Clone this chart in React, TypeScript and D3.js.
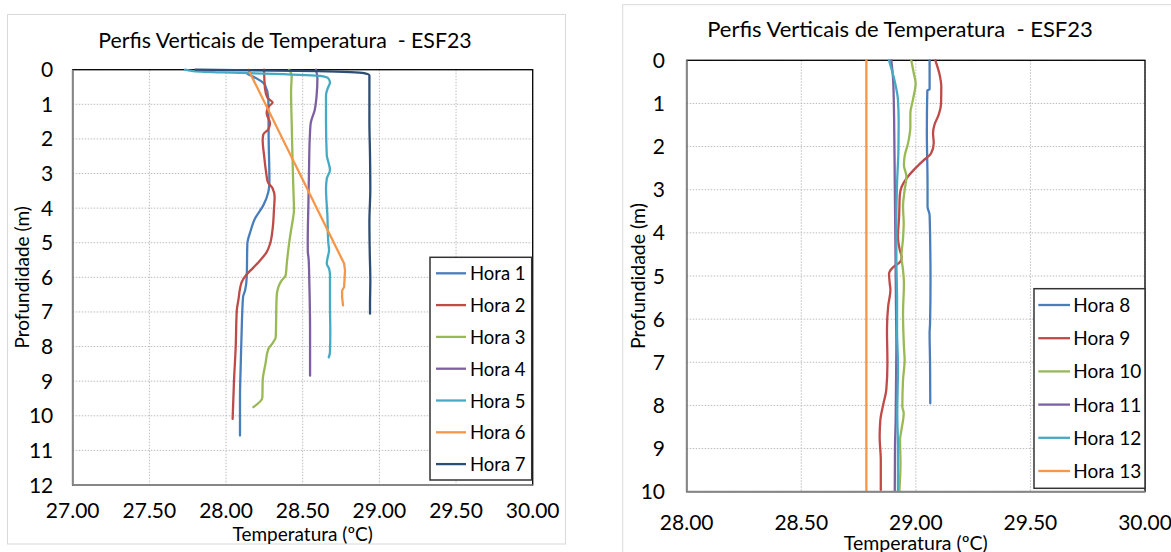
import React from "react";
import * as d3 from "d3";

type Pt = [number, number]; // [temperature, depth]

const TITLE = "Perfis Verticais de Temperatura  - ESF23";
const X_TITLE = "Temperatura (ºC)";
const Y_TITLE = "Profundidade (m)";

// ---------- Left chart data ----------
const leftXTicks = [27, 27.5, 28, 28.5, 29, 29.5, 30];
const leftYTicks = [0, 1, 2, 3, 4, 5, 6, 7, 8, 9, 10, 11, 12];
const leftNames = ["Hora 1", "Hora 2", "Hora 3", "Hora 4", "Hora 5", "Hora 6", "Hora 7"];

const hora1: Pt[] = [[28.14, 0.12], [28.254, 0.44], [28.276, 0.83], [28.278, 1.99], [28.283, 3.24], [28.276, 3.53], [28.243, 3.92], [28.189, 4.3], [28.16, 4.66], [28.139, 5.03], [28.135, 5.99], [28.124, 6.38], [28.111, 6.57], [28.102, 7.54], [28.096, 8.5], [28.091, 9.47], [28.091, 10.57]];
const hora2: Pt[] = [[28.248, 0], [28.254, 0.54], [28.27, 0.81], [28.304, 0.95], [28.276, 1.07], [28.265, 1.26], [28.287, 1.55], [28.276, 1.72], [28.243, 1.87], [28.239, 2.04], [28.248, 2.47], [28.261, 2.95], [28.272, 3.24], [28.304, 3.43], [28.317, 3.68], [28.313, 4.01], [28.304, 4.59], [28.287, 5.03], [28.265, 5.27], [28.222, 5.51], [28.178, 5.72], [28.13, 5.94], [28.102, 6.14], [28.08, 6.67], [28.07, 6.96], [28.063, 8.02], [28.052, 8.98], [28.043, 10.09]];
const hora3: Pt[] = [[28.411, 0], [28.428, 0.17], [28.424, 0.64], [28.428, 1.51], [28.433, 2.47], [28.439, 3.43], [28.443, 4.06], [28.435, 4.35], [28.424, 4.64], [28.411, 5.03], [28.396, 5.61], [28.389, 5.94], [28.363, 6.09], [28.341, 6.28], [28.33, 6.57], [28.324, 7.73], [28.304, 7.9], [28.276, 8.07], [28.257, 8.5], [28.239, 8.98], [28.237, 9.47], [28.178, 9.75]];
const hora4: Pt[] = [[28.587, 0], [28.596, 0.25], [28.591, 0.73], [28.578, 1.17], [28.552, 1.55], [28.546, 1.99], [28.541, 2.95], [28.537, 3.92], [28.533, 4.88], [28.533, 5.22], [28.539, 5.49], [28.543, 6.09], [28.548, 7.54], [28.548, 8.84]];
const hora5: Pt[] = [[27.733, 0], [27.787, 0.04], [27.983, 0.08], [28.309, 0.12], [28.613, 0.18], [28.667, 0.25], [28.678, 0.37], [28.663, 0.54], [28.652, 0.73], [28.652, 1.51], [28.657, 2.47], [28.67, 2.71], [28.678, 2.9], [28.657, 3.15], [28.652, 3.43], [28.661, 4.21], [28.667, 5.0], [28.672, 5.22], [28.661, 5.46], [28.657, 5.61], [28.672, 5.75], [28.678, 5.94], [28.678, 6.86], [28.68, 7.54], [28.678, 8.16], [28.67, 8.31]];
const hora6: Pt[] = [[28.146, 0], [28.77, 5.6], [28.776, 5.8], [28.77, 6.28], [28.757, 6.38], [28.757, 6.57], [28.763, 6.81]];
const hora7: Pt[] = [[27.8, 0], [28.6, 0.04], [28.9, 0.1], [28.935, 0.17], [28.935, 1.51], [28.939, 2.47], [28.941, 3.43], [28.935, 4.4], [28.937, 5.22], [28.941, 6.09], [28.939, 6.81], [28.939, 7.05]];

// ---------- Right chart data ----------
const rightXTicks = [28, 28.5, 29, 29.5, 30];
const rightYTicks = [0, 1, 2, 3, 4, 5, 6, 7, 8, 9, 10];
const rightNames = ["Hora 8", "Hora 9", "Hora 10", "Hora 11", "Hora 12", "Hora 13"];

const hora8: Pt[] = [[29.06, 0], [29.06, 0.67], [29.05, 0.7], [29.048, 1.69], [29.051, 2.85], [29.051, 3.39], [29.06, 3.59], [29.063, 4.4], [29.064, 5.09], [29.062, 6.1], [29.06, 6.33], [29.062, 7.02], [29.063, 7.95]];
const hora9: Pt[] = [[29.085, 0], [29.104, 0.34], [29.111, 0.61], [29.11, 1.0], [29.099, 1.27], [29.082, 1.48], [29.075, 1.69], [29.078, 1.92], [29.066, 2.16], [29.031, 2.33], [28.991, 2.54], [28.959, 2.74], [28.938, 2.93], [28.93, 3.12], [28.927, 3.62], [28.922, 4.09], [28.93, 4.4], [28.938, 4.57], [28.93, 4.68], [28.9, 4.8], [28.883, 4.95], [28.886, 5.17], [28.889, 5.32], [28.879, 5.71], [28.874, 6.25], [28.876, 7.02], [28.871, 7.64], [28.858, 7.97], [28.845, 8.34], [28.842, 8.72], [28.847, 9.27], [28.847, 9.96]];
const hora10: Pt[] = [[28.98, 0], [28.991, 0.3], [28.999, 0.53], [28.987, 0.92], [28.976, 1.23], [28.976, 1.54], [28.966, 1.92], [28.951, 2.22], [28.948, 2.43], [28.959, 2.7], [28.951, 3.01], [28.944, 3.39], [28.947, 3.78], [28.944, 4.13], [28.937, 4.55], [28.944, 4.86], [28.948, 5.17], [28.944, 5.87], [28.948, 6.64], [28.951, 6.95], [28.944, 7.41], [28.941, 8.03], [28.947, 8.18], [28.937, 8.57], [28.931, 8.8], [28.933, 9.34], [28.928, 10.0]];
const hora11: Pt[] = [[28.893, 0], [28.901, 0.46], [28.905, 1.31], [28.908, 2.85], [28.911, 4.4], [28.913, 5.56], [28.915, 6.64], [28.912, 8.34], [28.909, 8.96], [28.908, 10.0]];
const hora12: Pt[] = [[28.883, 0], [28.908, 0.49], [28.922, 0.92], [28.925, 1.46], [28.924, 2.08], [28.918, 2.85], [28.915, 3.62], [28.915, 4.55], [28.918, 5.56], [28.918, 6.25], [28.922, 7.1], [28.919, 8.18], [28.922, 8.96], [28.922, 10.0]];
const hora13: Pt[] = [[28.784, 0], [28.784, 10.0]];

const leftColors = ["#4A7EBB", "#BE4B48", "#98B954", "#7D60A0", "#46AAC5", "#F79646", "#2C4D75"];
const rightColors = ["#4A7EBB", "#BE4B48", "#98B954", "#7D60A0", "#46AAC5", "#F79646"];

const FONT = "Lato, 'Open Sans', sans-serif";

type ChartCfg = {
  id: string;
  frame: { x: number; y: number; w: number; h: number };
  plot: { l: number; r: number; t: number; b: number };
  xDomain: [number, number];
  yDomain: [number, number];
  xTicks: number[];
  yTicks: number[];
  series: Pt[][];
  straight: boolean[];
  names: string[];
  colors: string[];
  titleX: number;
  titleY: number;
  titleSize: number;
  tickSize: number;
  xTickBase: number;
  yTickRight: number;
  xTitleY: number;
  yTitleX: number;
  axisTitleSize: number;
  legend: { x: number; y: number; w: number; h: number; first: number; step: number; lineX1: number; lineX2: number; textX: number; size: number };
};

function Chart({ c }: { c: ChartCfg }) {
  const x = d3.scaleLinear().domain(c.xDomain).range([c.plot.l, c.plot.r]);
  const y = d3.scaleLinear().domain(c.yDomain).range([c.plot.t, c.plot.b]);
  const smooth = d3
    .line<Pt>()
    .x((d) => x(d[0]))
    .y((d) => y(d[1]))
    .curve(d3.curveMonotoneY);
  const straight = d3
    .line<Pt>()
    .x((d) => x(d[0]))
    .y((d) => y(d[1]))
    .curve(d3.curveLinear);
  const pw = c.plot.r - c.plot.l;
  const ph = c.plot.b - c.plot.t;
  const L = c.legend;
  return (
    <g fontFamily={FONT}>
      <rect x={c.frame.x} y={c.frame.y} width={c.frame.w} height={c.frame.h} fill="#fff" stroke="#D9D9D9" strokeWidth={1} />
      <text x={c.titleX} y={c.titleY} textAnchor="middle" fontSize={c.titleSize} fill="#000" style={{ whiteSpace: "pre" }}>
        {TITLE}
      </text>
      {c.xTicks.map((t) => (
        <line key={"gx" + t} x1={x(t)} x2={x(t)} y1={c.plot.t} y2={c.plot.b} stroke="#BDBDBD" strokeWidth={1} strokeDasharray="1.5,1.5" />
      ))}
      {c.yTicks.map((t) => (
        <line key={"gy" + t} x1={c.plot.l} x2={c.plot.r} y1={y(t)} y2={y(t)} stroke="#BDBDBD" strokeWidth={1} strokeDasharray="1.5,1.5" />
      ))}
      <rect x={c.plot.l} y={c.plot.t} width={pw} height={ph} fill="none" stroke="#000" strokeWidth={1.3} />
      <defs>
        <clipPath id={"clip" + c.id}>
          <rect x={c.plot.l} y={c.plot.t - 2} width={pw + 2} height={ph + 2} />
        </clipPath>
      </defs>
      <g clipPath={`url(#clip${c.id})`}>
        {c.series.map((s, i) => (
          <path
            key={i}
            d={(c.straight[i] ? straight(s) : smooth(s)) || ""}
            fill="none"
            stroke={c.colors[i]}
            strokeWidth={2.3}
            strokeLinejoin="round"
            strokeLinecap="round"
          />
        ))}
      </g>
      <line x1={c.plot.l} x2={c.plot.l} y1={c.plot.t} y2={c.plot.b} stroke="#868686" strokeWidth={1.8} />
      <line x1={c.plot.l} x2={c.plot.r} y1={c.plot.b} y2={c.plot.b} stroke="#868686" strokeWidth={1.8} />
      {c.xTicks.map((t) => (
        <text key={"tx" + t} x={x(t)} y={c.xTickBase} textAnchor="middle" fontSize={c.tickSize} fill="#000">
          {t.toFixed(2)}
        </text>
      ))}
      {c.yTicks.map((t) => (
        <text key={"ty" + t} x={c.yTickRight} y={y(t) + 7.5} textAnchor="end" fontSize={c.tickSize} fill="#000">
          {t}
        </text>
      ))}
      <text x={(c.plot.l + c.plot.r) / 2} y={c.xTitleY} textAnchor="middle" fontSize={c.axisTitleSize} fill="#000">
        {X_TITLE}
      </text>
      <text
        transform={`translate(${c.yTitleX},${(c.plot.t + c.plot.b) / 2}) rotate(-90)`}
        textAnchor="middle"
        fontSize={c.axisTitleSize}
        fill="#000"
      >
        {Y_TITLE}
      </text>
      <rect x={L.x} y={L.y} width={L.w} height={L.h} fill="#fff" stroke="#333" strokeWidth={1.5} />
      {c.names.map((n, i) => (
        <g key={n}>
          <line x1={L.lineX1} x2={L.lineX2} y1={L.first + i * L.step} y2={L.first + i * L.step} stroke={c.colors[i]} strokeWidth={2.3} />
          <text x={L.textX} y={L.first + i * L.step + 7} fontSize={L.size} fill="#000">
            {n}
          </text>
        </g>
      ))}
    </g>
  );
}

const leftCfg: ChartCfg = {
  id: "L",
  frame: { x: 7.5, y: 14.5, w: 558, h: 529.5 },
  plot: { l: 72.7, r: 532.7, t: 69.7, b: 485 },
  xDomain: [27, 30],
  yDomain: [0, 12],
  xTicks: leftXTicks,
  yTicks: leftYTicks,
  series: [hora1, hora2, hora3, hora4, hora5, hora6, hora7],
  straight: [false, false, false, false, false, true, false],
  names: leftNames,
  colors: leftColors,
  titleX: 285,
  titleY: 48.3,
  titleSize: 21.3,
  tickSize: 21,
  xTickBase: 518,
  yTickRight: 53.3,
  xTitleY: 540.5,
  yTitleX: 29,
  axisTitleSize: 19,
  legend: { x: 430, y: 257.3, w: 101.7, h: 222.7, first: 273.3, step: 31.8, lineX1: 436, lineX2: 466, textX: 470, size: 18.5 },
};

const rightCfg: ChartCfg = {
  id: "R",
  frame: { x: 622.7, y: 4.7, w: 560, h: 560 },
  plot: { l: 686.7, r: 1145, t: 60.3, b: 491.7 },
  xDomain: [28, 30],
  yDomain: [0, 10],
  xTicks: rightXTicks,
  yTicks: rightYTicks,
  series: [hora8, hora9, hora10, hora11, hora12, hora13],
  straight: [false, false, false, false, false, true],
  names: rightNames,
  colors: rightColors,
  titleX: 900,
  titleY: 36.7,
  titleSize: 22,
  tickSize: 21,
  xTickBase: 529.5,
  yTickRight: 665,
  xTitleY: 549.5,
  yTitleX: 645,
  axisTitleSize: 19.5,
  legend: { x: 1034, y: 288.7, w: 111, h: 199.6, first: 305, step: 33.2, lineX1: 1038.3, lineX2: 1070, textX: 1073.3, size: 19 },
};

export default function App() {
  return (
    <svg width={1171} height={552} style={{ position: "absolute", left: 0, top: 0, background: "#fff" }}>
      <rect x={0} y={0} width={1171} height={552} fill="#fff" />
      <Chart c={leftCfg} />
      <Chart c={rightCfg} />
    </svg>
  );
}
